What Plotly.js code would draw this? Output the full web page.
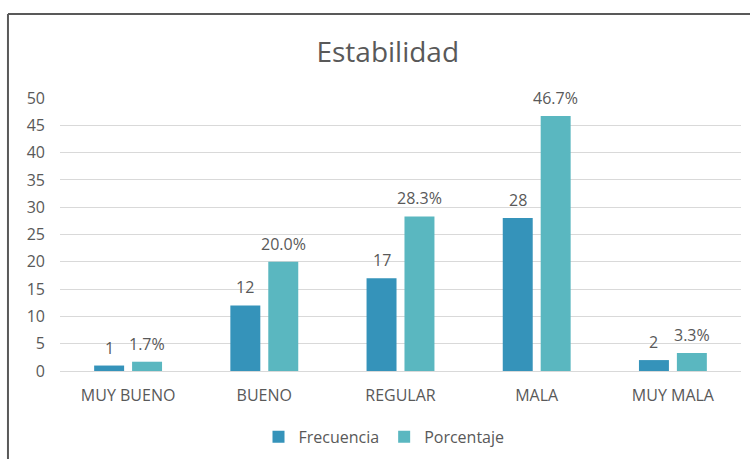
<!DOCTYPE html>
<html>
<head>
<meta charset="utf-8">
<script src="https://cdn.plot.ly/plotly-3.0.1.min.js"></script>
<style>html,body{margin:0;padding:0;background:#fff;}#chart{width:750px;height:459px;}</style>
</head>
<body>
<div id="chart"></div>
<script>
const categories = ["MUY BUENO", "BUENO", "REGULAR", "MALA", "MUY MALA"];
const frecuencia = [1, 12, 17, 28, 2];
const porcentaje = [1.7, 20.0, 28.3, 46.7, 3.3];
const yTicks = [0, 5, 10, 15, 20, 25, 30, 35, 40, 45, 50];

const FONT = "Open Sans, sans-serif";
const GRAY = "#595959";
const C1 = "#3593BA";
const C2 = "#5AB7C0";

const traces = [
  {type: "bar", name: "Frecuencia", x: categories, y: frecuencia, marker: {color: C1}, hoverinfo: "none"},
  {type: "bar", name: "Porcentaje", x: categories, y: porcentaje, marker: {color: C2}, hoverinfo: "none"}
];

const annotations = [];
categories.forEach((c, i) => {
  annotations.push({x: c, y: frecuencia[i], xref: "x", yref: "y", text: String(frecuencia[i]),
    showarrow: false, yanchor: "bottom", xshift: -19, yshift: 5, font: {family: FONT, size: 16, color: GRAY}});
  annotations.push({x: c, y: porcentaje[i], xref: "x", yref: "y", text: porcentaje[i].toFixed(1) + "%",
    showarrow: false, yanchor: "bottom", xshift: 19, yshift: 5, font: {family: FONT, size: 16, color: GRAY}});
});

const layout = {
  width: 750, height: 459,
  margin: {l: 60, r: 9, t: 98, b: 88},
  paper_bgcolor: "#fff", plot_bgcolor: "#fff",
  title: {text: "Estabilidad", x: 0.517, xanchor: "center", y: 0.887, yanchor: "middle",
    font: {family: FONT, size: 28, color: GRAY}, automargin: false},
  barmode: "group", bargap: 0.443, bargroupgap: 0.21,
  xaxis: {type: "category", tickfont: {family: FONT, size: 16, color: GRAY}, showline: true,
    linecolor: "#d9d9d9", linewidth: 1, ticks: "", showgrid: false, fixedrange: true, ticklabelstandoff: 10,
    automargin: false},
  yaxis: {range: [0, 50], tickvals: yTicks, ticktext: yTicks.map(String), showgrid: true, gridcolor: "#d9d9d9",
    gridwidth: 1, zeroline: false, showline: false, ticks: "", ticklabelstandoff: 14,
    tickfont: {family: FONT, size: 16, color: GRAY}, fixedrange: true, automargin: false},
  showlegend: true,
  legend: {orientation: "h", x: 0.512, xref: "container", xanchor: "center", y: 0.048, yref: "container", yanchor: "middle",
    font: {family: FONT, size: 16, color: GRAY}, itemwidth: 30, tracegroupgap: 0},
  annotations: annotations,
  shapes: [
    {type: "line", xref: "paper", yref: "paper", x0: -0.0764, x1: 1.05, y0: 1.3077, y1: 1.3077, line: {color: "#595959", width: 2}},
    {type: "line", xref: "paper", yref: "paper", x0: -0.0764, x1: -0.0764, y0: 1.3077, y1: -0.33, line: {color: "#595959", width: 2}}
  ]
};

Plotly.newPlot("chart", traces, layout, {displayModeBar: false, staticPlot: true});
</script>
</body>
</html>
